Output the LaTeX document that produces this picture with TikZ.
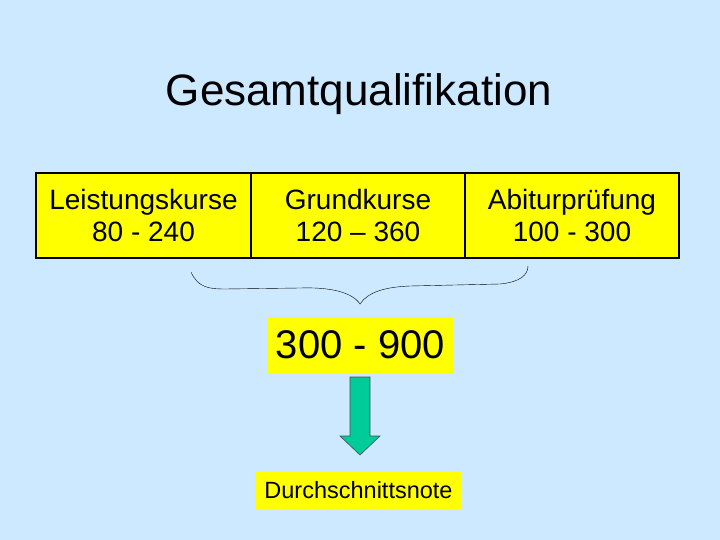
\documentclass[tikz,border=0pt]{standalone}
\usepackage{fontspec}
\setmainfont{Liberation Sans}
\usetikzlibrary{positioning}

\definecolor{slidebg}{HTML}{CCE9FF}
\definecolor{boxyellow}{HTML}{FFFF00}
\definecolor{arrowgreen}{HTML}{00CC99}

\begin{document}
\begin{tikzpicture}[x=1pt,y=-1pt,
  kurs/.style={draw=black,line width=2pt,fill=boxyellow,minimum width=214,minimum height=85,
    inner sep=0pt,outer sep=0pt,align=center,font=\fontsize{28}{32}\selectfont},
  ergebnis/.style={fill=boxyellow,inner sep=0pt}]
\fill[slidebg] (0,0) rectangle (720,540);
\useasboundingbox (0,0) rectangle (720,540);
\node (titel) at (359,94) {\fontsize{44}{48}\selectfont Gesamtqualifikation};
% die drei Bloecke
\node[kurs,minimum width=215] (lk) at (143.5,215.5) {Leistungskurse\\80 - 240};
\node[kurs,right=0pt of lk] (gk) {Grundkurse\\120 -- 360};
\node[kurs,right=0pt of gk] (abi) {Abiturprüfung\\100 - 300};
% Klammer
\draw[thin] (191,272) .. controls (198,288) and (210,289) .. (225,289)
  -- (300,288) .. controls (330,287) and (352,292) .. (360,304)
  .. controls (368,292) and (385,287) .. (410,286)
  -- (500,284) .. controls (520,282) and (528,275) .. (528,266);
\node[ergebnis,minimum width=185,minimum height=56,font=\fontsize{40}{44}\selectfont] (summe) at (360.5,345) {300 - 900};
\node[ergebnis,minimum width=207,minimum height=37,font=\fontsize{23.5}{26}\selectfont] (note) at (358.5,490.5) {Durchschnittsnote};
% Pfeil
\coordinate (pfeil) at (360,377);
\filldraw[fill=arrowgreen,draw=black!70,line width=0.6pt]
  (pfeil) ++(-10,0) -- ++(20,0) -- ++(0,59) -- ++(10,0) -- ++(-20,19)
  -- ++(-20,-19) -- ++(10,0) -- cycle;
\end{tikzpicture}
\end{document}
